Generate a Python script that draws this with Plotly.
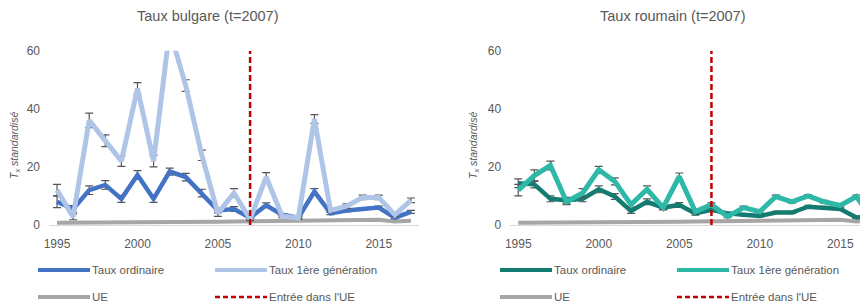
import plotly.graph_objects as go

years = list(range(1995, 2018))

# Bulgarie
bg_ord = [8, 5.5, 12, 13.8, 9, 17.2, 9, 18.4, 16.5, 11, 5, 5.5, 2.5, 6.8, 3.5, 2.5, 11.5, 4, 5, 5.5, 6, 2.5, 4.5]
bg_ord_err = [2, 1.2, 1.5, 1.5, 1.2, 1.5, 1.2, 1.2, 1.3, 1.3, 0.8, 0.8, 0.4, 0.8, 0.4, 0.3, 1.0, 0.4, 0.5, 0.5, 0.5, 0.3, 0.5]
bg_gen1 = [12, 2.8, 36, 29, 22, 47, 22, 67, 48, 24, 4, 11, 2, 16.5, 3, 2.5, 36.5, 5, 6.5, 9.5, 9.5, 3.5, 8.5]
bg_gen1_err = [2, 1, 2.5, 2, 1.8, 2, 2, 3, 2, 1.8, 1, 1.5, 0.5, 1.5, 0.5, 0.5, 1.5, 0.5, 0.8, 0.8, 0.8, 0.5, 0.8]
bg_ue = [0.8, 0.8, 0.9, 0.9, 0.9, 0.9, 0.9, 0.9, 1.0, 1.0, 1.1, 1.2, 1.3, 1.4, 1.4, 1.4, 1.5, 1.5, 1.6, 1.7, 1.8, 1.2, 1.5]

# Roumanie
ro_ord = [14.4, 14, 9, 8.5, 9, 12.3, 9.8, 4.8, 8, 6, 6.9, 4, 5.2, 4, 3.5, 3.1, 4.3, 4.3, 6.3, 6, 5.5, 2.6, 2.8]
ro_ord_err = [1.5, 1.2, 1, 1, 1, 1.2, 1, 0.8, 1, 0.8, 0.8, 0.6, 0.6, 0.4, 0.3, 0.3, 0.4, 0.4, 0.5, 0.4, 0.4, 0.3, 0.3]
ro_gen1 = [12, 17, 20.5, 8, 11, 19, 15, 7, 12.3, 6, 16.7, 4.6, 7, 2.9, 6, 4.6, 9.8, 8, 10, 8, 6.7, 9.8, 2]
ro_gen1_err = [2, 2, 1.5, 1, 1.5, 1.2, 1.2, 0.8, 1.2, 0.6, 1.2, 0.5, 0.6, 0.4, 0.5, 0.4, 0.5, 0.5, 0.5, 0.5, 0.5, 0.5, 0.4]
ro_ue = bg_ue

entry_year = 2007
y_ticks = [0, 20, 40, 60]
x_ticks = [1995, 2000, 2005, 2010, 2015]

FONT = "Liberation Sans, Arial, sans-serif"
TXT = "#595959"
ERRC = "#555555"

# page body has an 8px margin: figure sized so it fills the 868x308 window
OFF = 8
W, H = 868 - OFF, 308 - OFF
def px(x):
    return (x - OFF) / W
def py(y):
    return (H - (y - OFF)) / H

fig = go.Figure()

def add_panel(xa, ya, ord_v, ord_e, gen_v, gen_e, ue_v, c_ord, c_gen):
    fig.add_trace(go.Scatter(x=years, y=ue_v, mode="lines", line=dict(color="#A6A6A6", width=4),
                             xaxis=xa, yaxis=ya, showlegend=False, hoverinfo="skip"))
    fig.add_trace(go.Scatter(x=years, y=ord_v, mode="lines", line=dict(color=c_ord, width=4.5),
                             error_y=dict(type="data", array=ord_e, color=ERRC, thickness=1.2, width=4),
                             xaxis=xa, yaxis=ya, showlegend=False))
    fig.add_trace(go.Scatter(x=years, y=gen_v, mode="lines", line=dict(color=c_gen, width=5),
                             error_y=dict(type="data", array=gen_e, color=ERRC, thickness=1.2, width=4),
                             xaxis=xa, yaxis=ya, showlegend=False))
    fig.add_trace(go.Scatter(x=[entry_year, entry_year], y=[0, 60], mode="lines",
                             line=dict(color="#C00000", width=2.5, dash="6px,3px"),
                             xaxis=xa, yaxis=ya, showlegend=False))

add_panel("x", "y", bg_ord, bg_ord_err, bg_gen1, bg_gen1_err, bg_ue, "#4472C4", "#AFC5E8")
add_panel("x2", "y2", ro_ord, ro_ord_err, ro_gen1, ro_gen1_err, ro_ue, "#137B70", "#2DB8A8")

ydom = [py(225), py(50.7)]
yax = dict(range=[0, 60], tickvals=y_ticks, showgrid=False, zeroline=False, showline=False, automargin=False,
           tickfont=dict(family=FONT, size=12, color=TXT), ticks="", ticklabelstandoff=8, domain=ydom)
xax_common = dict(tickvals=x_ticks, showgrid=False, zeroline=False, showline=True, linecolor="#D9D9D9",
                  linewidth=1, ticks="", automargin=False,
                  tickfont=dict(family=FONT, size=12, color=TXT), ticklabelstandoff=8)

fig.update_layout(
    width=W, height=H, margin=dict(l=0, r=0, t=0, b=0, pad=0, autoexpand=False),
    showlegend=False,
    paper_bgcolor="white", plot_bgcolor="white",
    xaxis=dict(range=[1994.5, 2017.5], domain=[px(49), px(419)], anchor="y", **xax_common),
    yaxis=dict(anchor="x", **yax),
    xaxis2=dict(range=[1994.5, 1994.5 + (868 - 510.2) / 16.1], domain=[px(510.2), 1.0], anchor="y2", **xax_common),
    yaxis2=dict(anchor="x2", **yax),
)

ann = []
shapes = []
# titles
for cx, t in [(207, "Taux bulgare (t=2007)"), (672, "Taux roumain (t=2007)")]:
    ann.append(dict(x=px(cx), y=py(16), xref="paper", yref="paper", text=t, showarrow=False,
                    font=dict(family=FONT, size=14.5, color=TXT), xanchor="center", yanchor="middle"))
# y titles
for cx in [15, 474]:
    ann.append(dict(x=px(cx), y=py(146), xref="paper", yref="paper", text="<i>T<sub>x</sub> standardisé</i>",
                    showarrow=False, textangle=-90, font=dict(family=FONT, size=10.5, color=TXT),
                    xanchor="center", yanchor="middle"))

# legends
def legend_item(x0, y, color, label, dash=None, width=4):
    shapes.append(dict(type="line", xref="paper", yref="paper", x0=px(x0), x1=px(x0 + 52), y0=py(y), y1=py(y),
                       line=dict(color=color, width=width, dash=dash) if dash else dict(color=color, width=width)))
    ann.append(dict(x=px(x0 + 52), y=py(y), xref="paper", yref="paper", text=label, showarrow=False,
                    font=dict(family=FONT, size=11.5, color=TXT), xanchor="left", yanchor="middle"))

for (ox, c_ord, c_gen) in [(38, "#4472C4", "#AFC5E8"), (500, "#137B70", "#2DB8A8")]:
    legend_item(ox, 270, c_ord, "Taux ordinaire")
    legend_item(ox + 177, 270, c_gen, "Taux 1ère génération")
    legend_item(ox, 297, "#A6A6A6", "UE")
    legend_item(ox + 177, 297, "#C00000", "Entrée dans l'UE", dash="5px,3px", width=2.5)

fig.update_layout(annotations=ann, shapes=shapes)
fig.write_html("out.html")
